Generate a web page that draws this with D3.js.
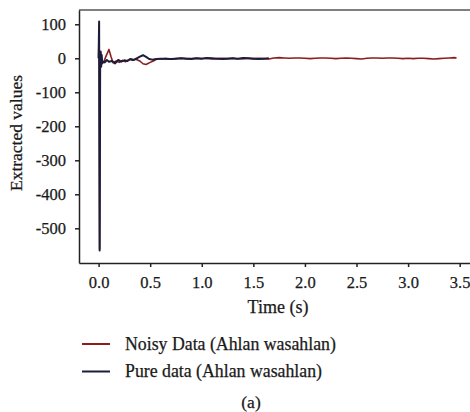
<!DOCTYPE html>
<html lang="en">
<head>
    <meta charset="UTF-8" />
    <title>Extracted values</title>
    <script src="https://d3js.org/d3.v7.min.js"></script>
    <style>
        body { margin: 0; background: #fff; }
        text { font-family: "Liberation Serif", "DejaVu Serif", serif; fill: #1a1a1a; stroke: #1a1a1a; stroke-width: 0.25px; }
    </style>
</head>
<body>
    <script>
        var w = 470;
        var h = 412;

        // Noisy data (Ahlan wasahlan)
        var noisyTime = [0, 0.005, 0.01, 0.015, 0.02, 0.03, 0.05, 0.07, 0.1, 0.12, 0.14, 0.17, 0.2, 0.23, 0.26,
            0.3, 0.33, 0.36, 0.4, 0.43, 0.46, 0.5, 0.53, 0.56, 0.6,
            0.65, 0.7, 0.75, 0.8, 0.85, 0.9, 0.95, 1.0, 1.05, 1.1, 1.15, 1.2, 1.25, 1.3, 1.35, 1.4, 1.45, 1.5,
            1.55, 1.6, 1.65, 1.7, 1.75, 1.8, 1.85, 1.9, 1.95, 2.0, 2.05, 2.1, 2.15, 2.2, 2.25, 2.3, 2.35, 2.4,
            2.45, 2.5, 2.55, 2.6, 2.65, 2.7, 2.75, 2.8, 2.85, 2.9, 2.95, 3.0, 3.05, 3.1, 3.15, 3.2, 3.25, 3.3,
            3.35, 3.4, 3.45, 3.47];
        var noisyValue = [0, 95, -560, -30, 15, -10, -12, 5, 26, 5, -13, -8, -12, -6, -10,
            -3, -6, -3, -8, -16, -18, -12, -8, -3, -2,
            -1, -2, -1, 0, -1, -1, 0, -1, 0, -2, -1, 0, -1, 0, -2, -1, 0, -1,
            0, -1, -2, 1, 2, 1, 0, 1, 1, 0, -1, 0, 1, 1, 0, -1, 0, 1,
            0, -1, -2, 0, 1, 1, 0, 1, 1, 0, -1, 0, -1, 0, 0, -1, -2, -1,
            0, 1, 2, 1];

        // Pure data (Ahlan wasahlan)
        var pureTime = [0, 0.005, 0.01, 0.015, 0.02, 0.025, 0.03, 0.035, 0.045, 0.06, 0.08, 0.1, 0.13, 0.16,
            0.19, 0.22, 0.25, 0.28, 0.31, 0.34, 0.37, 0.4, 0.43, 0.46, 0.49, 0.52, 0.56, 0.6,
            0.65, 0.7, 0.75, 0.8, 0.85, 0.9, 0.95, 1.0, 1.05, 1.1, 1.15, 1.2, 1.25, 1.3, 1.35, 1.4, 1.45, 1.5,
            1.55, 1.6, 1.65];
        var pureValue = [0, 108, -565, -20, 20, -25, 10, -15, -10, -12, -5, -10, -8, -15,
            -5, -10, -6, -8, -2, -5, 0, 5, 9, 4, -2, -4, -2, -1,
            -1, -2, -1, 0, -1, -2, 0, -1, 1, 0, -1, -2, -1, 0, -1, 1, 0, -1,
            -2, -1, 0];

        var xTicks = [0, 0.5, 1.0, 1.5, 2.0, 2.5, 3.0, 3.5];
        var yTicks = [100, 0, -100, -200, -300, -400, -500];

        var legendLabels = ["Noisy Data (Ahlan wasahlan)", "Pure data (Ahlan wasahlan)"];
        var colors = ["#8b1d1d", "#1b1d3a"];

        var svg = d3.select("body")
            .append("svg")
            .attr("width", w)
            .attr("height", h);

        // Scales
        var xScale = d3.scaleLinear()
            .domain([-0.19, 3.6])
            .range([79, 470]);

        var yScale = d3.scaleLinear()
            .domain([-602, 142])
            .range([263, 10]);

        // Frame: top border
        svg.append("line")
            .attr("x1", 79).attr("x2", 470)
            .attr("y1", 10).attr("y2", 10)
            .attr("stroke", "#555")
            .attr("stroke-width", 1.5);

        // Axes
        var xAxis = d3.axisBottom(xScale)
            .tickValues(xTicks)
            .tickSize(4)
            .tickSizeOuter(0)
            .tickPadding(9)
            .tickFormat(d3.format(".1f"));

        var yAxis = d3.axisLeft(yScale)
            .tickValues(yTicks)
            .tickSize(4)
            .tickSizeOuter(0)
            .tickPadding(9)
            .tickFormat(function(d) { return d < 0 ? "-" + Math.abs(d) : d; });

        var gx = svg.append("g")
            .attr("transform", "translate(0," + 263 + ")")
            .call(xAxis);

        var gy = svg.append("g")
            .attr("transform", "translate(" + 79 + ",0)")
            .call(yAxis);

        [gx, gy].forEach(function(g) {
            g.select(".domain").attr("stroke", "#222").attr("stroke-width", 1.5);
            g.selectAll(".tick line").attr("stroke", "#222").attr("stroke-width", 1.5);
            g.selectAll(".tick text")
                .style("font-family", "'Liberation Serif', 'DejaVu Serif', serif")
                .style("font-size", "16.5px")
                .attr("fill", "#1a1a1a");
        });

        // Axis titles
        svg.append("text")
            .attr("x", 278)
            .attr("y", 313)
            .attr("text-anchor", "middle")
            .style("font-size", "18px")
            .text("Time (s)");

        svg.append("text")
            .attr("transform", "translate(22,133) rotate(-90)")
            .attr("text-anchor", "middle")
            .style("font-size", "17.5px")
            .text("Extracted values");

        // Lines
        var line = d3.line()
            .x(function(d) { return xScale(d[0]); })
            .y(function(d) { return yScale(d[1]); });

        var noisy = d3.zip(noisyTime, noisyValue);
        var pure = d3.zip(pureTime, pureValue);

        svg.append("path")
            .datum(noisy)
            .attr("fill", "none")
            .attr("stroke", colors[0])
            .attr("stroke-width", 1.6)
            .attr("stroke-linejoin", "round")
            .attr("d", line);

        svg.append("path")
            .datum(pure)
            .attr("fill", "none")
            .attr("stroke", colors[1])
            .attr("stroke-width", 2)
            .attr("stroke-linejoin", "round")
            .attr("d", line);

        // Legend
        var legend = svg.selectAll(".legend")
            .data(legendLabels)
            .enter()
            .append("g")
            .attr("class", "legend")
            .attr("transform", function(d, i) {
                return "translate(82," + (344 + i * 27.5) + ")";
            });

        legend.append("line")
            .attr("x1", 0).attr("x2", 28)
            .attr("stroke", function(d, i) { return colors[i]; })
            .attr("stroke-width", 2);

        legend.append("text")
            .attr("x", 43)
            .attr("y", 5.5)
            .style("font-size", "17.8px")
            .text(function(d) { return d; });

        svg.append("text")
            .attr("x", 251)
            .attr("y", 408)
            .attr("text-anchor", "middle")
            .style("font-size", "17.5px")
            .text("(a)");
    </script>
</body>
</html>
